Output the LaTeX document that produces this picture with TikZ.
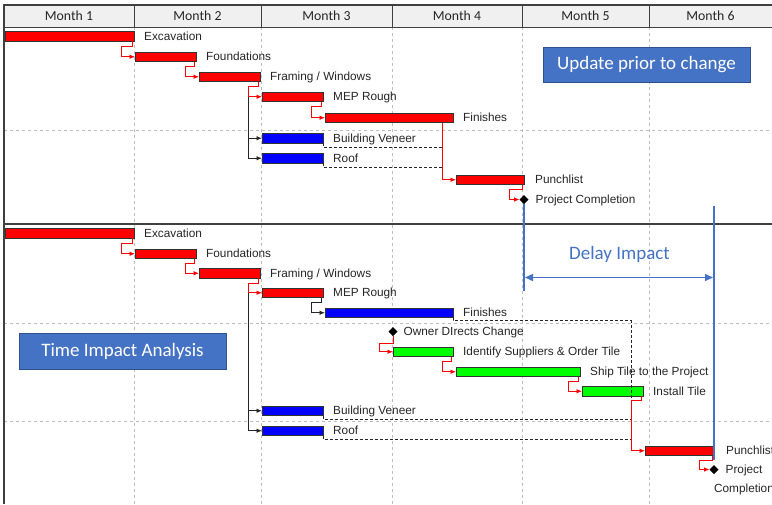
\documentclass[tikz,border=0pt]{standalone}
\usepackage{fontspec}
\setmainfont{Liberation Sans}
\newfontfamily\calib{Carlito}
\usetikzlibrary{arrows.meta,shapes.geometric}
\definecolor{ofblue}{HTML}{4472C4}
\definecolor{ofblueD}{HTML}{2F528F}
\definecolor{hdr}{HTML}{F0F0F0}
\definecolor{gridc}{HTML}{BDBDBD}
\begin{document}
\begin{tikzpicture}[x=1pt,y=-1pt,
  bar/.style={draw=black!80, line width=0.9pt, inner sep=0pt, outer sep=0pt, minimum height=9.5pt, anchor=north west},
  redbar/.style={bar, fill=red},
  bluebar/.style={bar, fill=blue},
  greenbar/.style={bar, fill=green},
  lbl/.style={anchor=base west, font=\fontsize{11.8}{13}\selectfont, text=black!85, inner sep=0pt},
  rlink/.style={draw=red, line width=0.8pt, -{Latex[length=5.5pt,width=4.5pt]}},
  klink/.style={draw=black!85, line width=0.9pt, -{Latex[length=5.5pt,width=4.5pt]}},
  dlink/.style={draw=black!85, line width=0.9pt, dash pattern=on 3pt off 2pt},
  ms/.style={diamond, fill=black, inner sep=0pt, outer sep=0pt, minimum size=9pt},
  gridline/.style={draw=gridc, line width=0.6pt, dash pattern=on 3pt off 3pt},
  hline/.style={draw=black!75, line width=0.9pt},
  frame/.style={draw=black!75, line width=1.5pt},
  sepline/.style={draw=black!75, line width=2pt},
  hfont/.style={font=\calib\fontsize{13.8}{16}\selectfont, text=black!85},
  ibox/.style={draw=ofblueD, fill=ofblue, text=white, line width=0.8pt, inner sep=0pt, font=\calib\fontsize{19}{22}\selectfont},
  dline/.style={draw=ofblue, line width=1.8pt}
]
\useasboundingbox (0,0) rectangle (772,504);
\fill[white] (0,0) rectangle (772,504);
% header
\fill[hdr] (4,5) rectangle (772,27);
% grid
\foreach \gx in {134,261,392,522.5,649} \draw[gridline] (\gx,27) -- (\gx,504);
\foreach \gy in {130,323,421} \draw[gridline] (4,\gy) -- (772,\gy);
\draw[hline] (4,27) -- (772,27);
\foreach \gx in {134,261,392,522.5,649} \draw[hline] (\gx,5) -- (\gx,27);
\draw[frame] (4,504) -- (4,5) -- (772,5);
\node[hfont] (m1) at (69,16) {Month 1};
\node[hfont] (m2) at (197.5,16) {Month 2};
\node[hfont] (m3) at (326.5,16) {Month 3};
\node[hfont] (m4) at (457,16) {Month 4};
\node[hfont] (m5) at (585.5,16) {Month 5};
\node[hfont] (m6) at (710.5,16) {Month 6};
\draw[sepline] (4,224) -- (772,224);

% boxes
\node[ibox, minimum width=207pt, minimum height=35pt] (upd) at (646.5,64.5) {Update prior to change};
\node[ibox, minimum width=207pt, minimum height=36pt] (tia) at (122.5,351) {Time Impact Analysis};

% ---------- top schedule ----------
\node[redbar, minimum width=129pt] (exc1) at (5,31.5) {};
\node[redbar, minimum width=61pt] (fou1) at (135,52) {};
\node[redbar, minimum width=61pt] (fra1) at (199,72) {};
\node[redbar, minimum width=61pt] (mep1) at (262,92) {};
\node[redbar, minimum width=128pt] (fin1) at (325,113) {};
\node[bluebar, minimum width=61pt] (bv1) at (262,133.5) {};
\node[bluebar, minimum width=61pt] (roof1) at (262,153.5) {};
\node[redbar, minimum width=68pt] (pun1) at (456,175) {};
\node[ms] (pc1) at (524,199.5) {};

\node[lbl] (lexc1) at ([xshift=10pt,yshift=-4pt]exc1.east) {Excavation};
\node[lbl] (lfou1) at ([xshift=10pt,yshift=-4pt]fou1.east) {Foundations};
\node[lbl] (lfra1) at ([xshift=10pt,yshift=-4pt]fra1.east) {Framing / Windows};
\node[lbl] (lmep1) at ([xshift=10pt,yshift=-4pt]mep1.east) {MEP Rough};
\node[lbl] (lfin1) at ([xshift=10pt,yshift=-4pt]fin1.east) {Finishes};
\node[lbl] (lbv1) at ([xshift=10pt,yshift=-4pt]bv1.east) {Building Veneer};
\node[lbl] (lroof1) at ([xshift=10pt,yshift=-4pt]roof1.east) {Roof};
\node[lbl] (lpun1) at ([xshift=11pt,yshift=-4pt]pun1.east) {Punchlist};
\node[lbl] (lpc1) at ([xshift=7pt,yshift=-4pt]pc1.east) {Project Completion};

\coordinate (fd1) at ([xshift=-11pt]fin1.south east);
\coordinate (t1) at ([shift={(0,4)}]bv1.south east);
\coordinate (t2) at ([shift={(0,4)}]roof1.south east);
\draw[dlink] (bv1.south east) -- (t1) -- (t1 -| fd1);
\draw[dlink] (roof1.south east) -- (t2) -- (t2 -| fd1);

\draw[rlink] ([xshift=-1.5pt]exc1.south east) -- ++(0,5) -| ([xshift=-14pt]fou1.west) -- (fou1.west);
\draw[rlink] ([xshift=-1.5pt]fou1.south east) -- ++(0,5) -| ([xshift=-14pt]fra1.west) -- (fra1.west);
\coordinate (k1) at ([xshift=-14pt]mep1.west);
\draw[klink] (k1) |- (bv1.west);
\draw[klink] (k1) |- (roof1.west);
\draw[rlink] ([xshift=-1.5pt]fra1.south east) -- ++(0,5) -| (k1) -- (mep1.west);
\draw[rlink] ([xshift=-1.5pt]mep1.south east) -- ++(0,5) -| ([xshift=-14pt]fin1.west) -- (fin1.west);
\draw[rlink] (fd1) |- (pun1.west);
\draw[rlink] ([xshift=-1.5pt]pun1.south east) -- ++(0,5) -| ([xshift=-10pt]pc1.west) -- (pc1.west);

% ---------- bottom schedule ----------
\node[redbar, minimum width=129pt] (exc2) at (5,228.5) {};
\node[redbar, minimum width=61pt] (fou2) at (135,249) {};
\node[redbar, minimum width=61pt] (fra2) at (199,268.5) {};
\node[redbar, minimum width=61pt] (mep2) at (262,288) {};
\node[bluebar, minimum width=128pt] (fin2) at (325,308) {};
\node[ms] (odc) at (393,331.5) {};
\node[greenbar, minimum width=60pt] (idf) at (393,347) {};
\node[greenbar, minimum width=124pt] (shp) at (456,367) {};
\node[greenbar, minimum width=61pt] (ins) at (582,386.5) {};
\node[bluebar, minimum width=61pt] (bv2) at (262,406) {};
\node[bluebar, minimum width=61pt] (roof2) at (262,426) {};
\node[redbar, minimum width=69pt] (pun2) at (645,446) {};
\node[ms] (pc2) at (714,469.5) {};

\node[lbl] (lexc2) at ([xshift=10pt,yshift=-4pt]exc2.east) {Excavation};
\node[lbl] (lfou2) at ([xshift=10pt,yshift=-4pt]fou2.east) {Foundations};
\node[lbl] (lfra2) at ([xshift=10pt,yshift=-4pt]fra2.east) {Framing / Windows};
\node[lbl] (lmep2) at ([xshift=10pt,yshift=-4pt]mep2.east) {MEP Rough};
\node[lbl] (lfin2) at ([xshift=10pt,yshift=-4pt]fin2.east) {Finishes};
\node[lbl] (lodc) at ([xshift=6pt,yshift=-4pt]odc.east) {Owner DIrects Change};
\node[lbl] (lidf) at ([xshift=10pt,yshift=-4pt]idf.east) {Identify Suppliers \& Order Tile};
\node[lbl] (lshp) at ([xshift=10pt,yshift=-4pt]shp.east) {Ship Tile to the Project};
\node[lbl] (lins) at ([xshift=10pt,yshift=-4pt]ins.east) {Install Tile};
\node[lbl] (lbv2) at ([xshift=10pt,yshift=-4pt]bv2.east) {Building Veneer};
\node[lbl] (lroof2) at ([xshift=10pt,yshift=-4pt]roof2.east) {Roof};
\node[lbl] (lpun2) at ([xshift=12pt,yshift=-4pt]pun2.east) {Punchlist};
\node[font=\fontsize{11.8}{19}\selectfont, text=black!85, inner sep=0pt, align=center, anchor=north] (lpc2) at (744,464.5) {Project\\Completion};

\coordinate (p2k) at ([xshift=-14pt]pun2.west);
\coordinate (t3) at ([shift={(0,3)}]fin2.south east);
\coordinate (t4) at ([shift={(0,3.5)}]bv2.south east);
\coordinate (t5) at ([shift={(0,3.5)}]roof2.south east);
\draw[dlink] (fin2.south east) -- (t3) -| (p2k);
\draw[dlink] (bv2.south east) -- (t4) -- (t4 -| p2k);
\draw[dlink] (roof2.south east) -- (t5) -- (t5 -| p2k);

\draw[rlink] ([xshift=-1.5pt]exc2.south east) -- ++(0,5) -| ([xshift=-14pt]fou2.west) -- (fou2.west);
\draw[rlink] ([xshift=-1.5pt]fou2.south east) -- ++(0,5) -| ([xshift=-14pt]fra2.west) -- (fra2.west);
\coordinate (k2) at ([xshift=-14pt]mep2.west);
\draw[klink] (k2) |- (bv2.west);
\draw[klink] (k2) |- (roof2.west);
\draw[rlink] ([xshift=-1.5pt]fra2.south east) -- ++(0,5) -| (k2) -- (mep2.west);
\draw[klink] ([xshift=-1.5pt]mep2.south east) -- ++(0,5) -| ([xshift=-14pt]fin2.west) -- (fin2.west);
\draw[rlink] (odc.south) -- ++(0,7) -| ([xshift=-14pt]idf.west) -- (idf.west);
\draw[rlink] ([xshift=-1.5pt]idf.south east) -- ++(0,5) -| ([xshift=-14pt]shp.west) -- (shp.west);
\draw[rlink] ([xshift=-1.5pt]shp.south east) -- ++(0,5) -| ([xshift=-14pt]ins.west) -- (ins.west);
\draw[rlink] ([xshift=-1.5pt]ins.south east) -- ++(0,4) -| (p2k) -- (pun2.west);
\draw[rlink] ([xshift=-1.5pt]pun2.south east) -- ++(0,5) -| ([xshift=-10pt]pc2.west) -- (pc2.west);

% ---------- delay impact ----------
\coordinate (dA) at (pc1.south);
\coordinate (dB) at (pun2.east |- pc1.south);
\draw[dline] (dA) -- ([shift={(0,87)}]dA);
\draw[dline] ([shift={(0,2)}]dB) -- ([shift={(0,4)}]pun2.south east);
\draw[ofblue, line width=1.4pt, {Triangle[length=8pt,width=7pt]}-{Triangle[length=8pt,width=7pt]}] ([shift={(1,73.5)}]dA) -- ([shift={(-1,73.5)}]dB);
\node[font=\calib\fontsize{19}{22}\selectfont, text=ofblue] (dlt) at (619.5,254) {Delay Impact};
\end{tikzpicture}
\end{document}
